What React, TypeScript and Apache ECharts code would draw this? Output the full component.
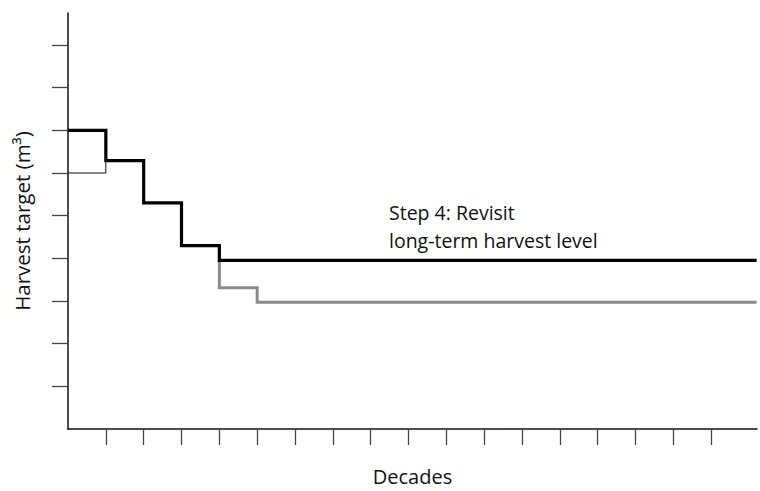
import React, { useEffect, useRef } from "react";
import * as echarts from "echarts";

// Decade positions (x) and harvest target levels (y)
const initialHarvest: [number, number][] = [[0, 6.0], [1, 6.0], [1, 6.29]];
const revisedHarvest: [number, number][] = [
  [0, 7.0], [1, 7.0], [1, 6.29], [2, 6.29], [2, 5.3], [3, 5.3], [3, 4.3], [4, 4.3], [4, 3.95], [18.2, 3.95],
];
const lowerHarvest: [number, number][] = [[4, 3.95], [4, 3.31], [5, 3.31], [5, 2.97], [18.2, 2.97]];
const xTicks = [1, 2, 3, 4, 5, 6, 7, 8, 9, 10, 11, 12, 13, 14, 15, 16, 17];
const yTicks = [1, 2, 3, 4, 5, 6, 7, 8, 9];
const annotationLines = ["Step 4: Revisit", "long-term harvest level"];

const FONT = "'Open Sans', sans-serif";

export default function App() {
  const ref = useRef<HTMLDivElement>(null);
  useEffect(() => {
    if (!ref.current) return;
    const chart = echarts.init(ref.current, undefined, { renderer: "svg" });
    chart.setOption({
      animation: false,
      backgroundColor: "#ffffff",
      grid: { left: 68, right: 3, top: 13, bottom: 61, containLabel: false },
      xAxis: {
        type: "value",
        min: 0,
        max: 18.21,
        name: "Decades",
        nameLocation: "middle",
        nameGap: 37,
        nameTextStyle: { fontFamily: FONT, fontSize: 20, color: "#111" },
        axisLine: { show: true, lineStyle: { color: "#111", width: 1.5 } },
        axisTick: { show: true, length: 16, customValues: xTicks, lineStyle: { color: "#444", width: 1.3 } },
        axisLabel: { show: false },
        splitLine: { show: false },
      },
      yAxis: {
        type: "value",
        min: 0,
        max: 9.75,
        name: "Harvest target (m³)",
        nameLocation: "middle",
        nameGap: 36,
        nameTextStyle: { fontFamily: FONT, fontSize: 20.5, color: "#111" },
        axisLine: { show: true, lineStyle: { color: "#111", width: 1.5 } },
        axisTick: { show: true, length: 16, customValues: yTicks, lineStyle: { color: "#444", width: 1.3 } },
        axisLabel: { show: false },
        splitLine: { show: false },
      },
      graphic: [
        {
          type: "text",
          left: 389,
          top: 198,
          style: {
            text: annotationLines.join("\n"),
            fontFamily: FONT,
            fontSize: 19.5,
            lineHeight: 28,
            fill: "#111",
          },
        },
      ],
      series: [
        {
          type: "line",
          data: lowerHarvest,
          symbol: "none",
          lineStyle: { color: "#8a8a8a", width: 3, join: "miter", cap: "butt" },
          z: 2,
        },
        {
          type: "line",
          data: initialHarvest,
          symbol: "none",
          lineStyle: { color: "#111", width: 1, join: "miter" },
          z: 2,
        },
        {
          type: "line",
          data: revisedHarvest,
          symbol: "none",
          lineStyle: { color: "#000", width: 3.2, join: "miter", cap: "butt" },
          z: 3,
        },
      ],
    });
    return () => chart.dispose();
  }, []);
  return <div ref={ref} style={{ width: 760, height: 491, position: "absolute", left: 0, top: 0 }} />;
}
